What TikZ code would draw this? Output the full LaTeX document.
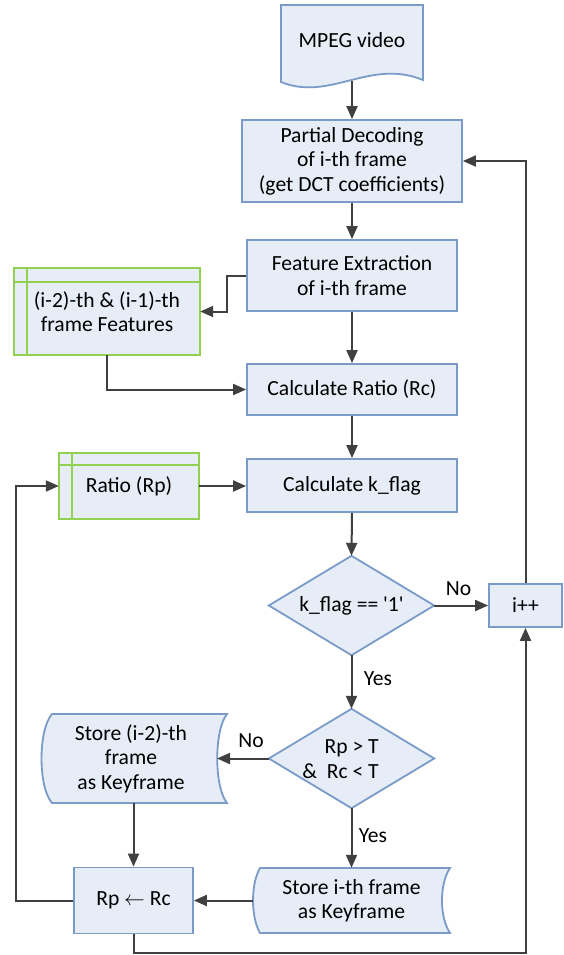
\documentclass[tikz,border=0pt]{standalone}
\usepackage{fontspec}
\newfontfamily\calib{Carlito}
\usetikzlibrary{arrows.meta,backgrounds}
\definecolor{bfill}{RGB}{230,237,247}
\definecolor{bline}{RGB}{122,155,200}
\definecolor{gline}{RGB}{146,208,80}
\definecolor{aline}{RGB}{64,64,64}
\begin{document}
\begin{tikzpicture}[x=1pt,y=-1pt,
  every node/.style={font={\calib\fontsize{21.6}{24.5}\selectfont}},
  box/.style={draw=bline,fill=bfill,line width=1.8pt,rectangle,align=center,inner sep=0pt},
  ghost/.style={rectangle,align=center,inner sep=0pt},
  shp/.style={draw=bline,fill=bfill,line width=1.8pt},
  gshp/.style={draw=gline,fill=bfill,line width=1.8pt},
  gsep/.style={draw=gline,line width=1.8pt},
  conn/.style={draw=aline,line width=2pt,-{Triangle[length=13pt,width=11pt]}},
  lbl/.style={inner sep=0pt}]
\useasboundingbox (0,0) rectangle (563,955);

% nodes
\node[ghost] (mpeg) at (352,40) {MPEG video};
\coordinate (mpegb) at (352,81);
\node[box,minimum width=220,minimum height=82] (pd) at (352,161) {Partial Decoding\\of i-th frame\\(get DCT coefficients)};
\node[box,minimum width=210,minimum height=71] (fe) at (352,275.5) {Feature Extraction\\of i-th frame};
\node[box,minimum width=210,minimum height=51] (cr) at (352,389.5) {Calculate Ratio (Rc)};
\node[box,minimum width=210,minimum height=53] (ck) at (352,485.5) {Calculate k\_flag};
\node[ghost,minimum width=165,minimum height=99] (d1) at (351.5,605.5) {k\_flag == '1'};
\node[box,minimum width=73,minimum height=43] (ipp) at (525.5,605.5) {i++};
\node[ghost,minimum width=165,minimum height=99] (d2) at (351.5,758.5) {};
\node[ghost,align=right] (d2t) at (340.5,759) {Rp > T\\\&\ \ Rc < T};
\node[ghost,minimum width=180,minimum height=89] (s2) at (131,758.5) {Store (i-2)-th\\frame\\as Keyframe};
\node[box,minimum width=119,minimum height=66] (rp) at (133.5,900.5) {Rp $\leftarrow$ Rc};
\node[ghost,minimum width=197,minimum height=65] (si) at (351.5,900.5) {Store i-th frame\\as Keyframe};
\node[ghost,minimum width=186,minimum height=87] (feat) at (107,311.5) {(i-2)-th \& (i-1)-th\\frame Features};
\node[ghost,minimum width=140,minimum height=66] (ratio) at (129,486) {Ratio (Rp)};

% shapes
\begin{scope}[on background layer]
  \path[shp] (281,5) -- (423,5) -- (423,80) .. controls (370,58) and (330,102) .. (281,82) -- cycle;
  \path[shp] (d1.north) -- (d1.east) -- (d1.south) -- (d1.west) -- cycle;
  \path[shp] (d2.north) -- (d2.east) -- (d2.south) -- (d2.west) -- cycle;
  \path[shp] (52,714) -- (227,714) .. controls (214,730) and (214,787) .. (227,803) -- (52,803) .. controls (38,787) and (38,730) .. (52,714) -- cycle;
  \path[shp] (260,868) -- (450,868) .. controls (439.3,884) and (439.3,917) .. (450,933) -- (260,933) .. controls (250.7,917) and (250.7,884) .. (260,868) -- cycle;
  \path[gshp] (14,268) rectangle (200,355);
  \draw[gsep] (27,268) -- (27,355) (14,282) -- (200,282);
  \path[gshp] (59,453) rectangle (199,519);
  \draw[gsep] (72,453) -- (72,519) (59,465) -- (199,465);
\end{scope}

% connectors
\draw[conn] (mpegb) -- (pd.north);
\draw[conn] (pd.south) -- (fe.north);
\draw[conn] (fe.west) -- (227,275.5) |- (feat.east);
\draw[conn] (feat.south) |- (cr.west);
\draw[conn] (fe.south) -- (cr.north);
\draw[conn] (cr.south) -- (ck.north);
\draw[conn] (ratio.east) -- (ratio.east -| ck.west);
\draw[conn] (ck.south) -- (d1.north);
\draw[conn] (d1.east) -- (ipp.west);
\draw[conn] (ipp.north) |- (pd.east);
\draw[conn] (d1.south) -- (d2.north);
\draw[conn] (d2.west) -- (217,758.5);
\draw[conn] (d2.south) -- (si.north);
\draw[conn] (rp.north |- s2.south) -- (rp.north);
\draw[conn] (si.west) -- (rp.east);
\draw[conn] (rp.west) -- (15.5,900.5) |- (ratio.west);
\draw[conn] (rp.south) -- (133.5,953) -| (ipp.south);

% labels
\node[lbl] (lno1) at (458.5,589) {No};
\node[lbl] (lyes1) at (378,679) {Yes};
\node[lbl] (lno2) at (251,741) {No};
\node[lbl] (lyes2) at (373,836) {Yes};
\end{tikzpicture}
\end{document}
